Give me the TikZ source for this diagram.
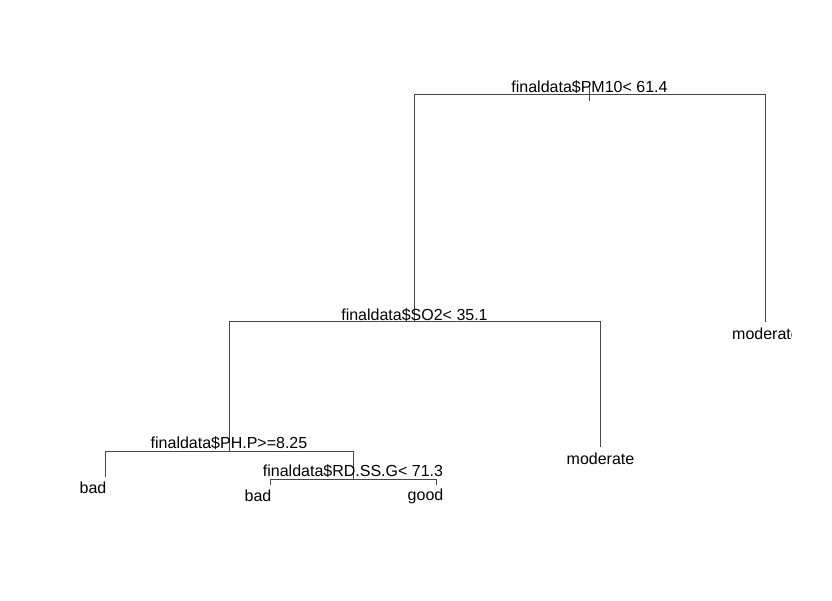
\documentclass[tikz,border=0pt]{standalone}
\usepackage{fontspec}
\setmainfont{Liberation Sans}
\begin{document}
\begin{tikzpicture}[x=1pt,y=-1pt,
  edge/.style={draw=black!72,line width=0.8pt},
  lbl/.style={inner sep=0pt,anchor=base,font=\fontsize{16}{19}\selectfont}]
\fill[white] (0,0) rectangle (832,600);
\useasboundingbox (0,0) rectangle (832,600);
% tree node positions
\coordinate (root) at (589.5,94);
\coordinate (s2) at (414,321.5);
\coordinate (m1) at (765,322);
\coordinate (s3) at (229,451);
\coordinate (m2) at (600,447);
\coordinate (b1) at (105,477);
\coordinate (s4) at (353,479);
\coordinate (b2) at (270,485);
\coordinate (g1) at (436,485);
% connectors
\draw[edge] (root |- 0,86) -- (root |- 0,101);
\draw[edge] (s2) -- (s2 |- root) -- (m1 |- root) -- (m1);
\draw[edge] (s3) -- (s3 |- s2) -- (m2 |- s2) -- (m2);
\draw[edge] (b1) -- (b1 |- s3) -- (s4 |- s3) -- (s4);
\draw[edge] (b2) -- (b2 |- s4) -- (g1 |- s4) -- (g1);
% labels
\node[lbl] (t1) at (589.5,92) {finaldata\$PM10< 61.4};
\node[lbl] (t2) at (414.5,320) {finaldata\$SO2< 35.1};
\node[lbl] (t3) at (229,448) {finaldata\$PH.P>=8.25};
\node[lbl] (t4) at (353,476.5) {finaldata\$RD.SS.G< 71.3};
\node[lbl] (l1) at (93,493) {bad};
\node[lbl] (l2) at (258,501.5) {bad};
\node[lbl] (l3) at (425.5,500.5) {good};
\node[lbl] (l4) at (600.5,464) {moderate};
\begin{scope}
\clip (0,0) rectangle (791.5,600);
\node[lbl] (l5) at (766,339) {moderate};
\end{scope}
\end{tikzpicture}
\end{document}
